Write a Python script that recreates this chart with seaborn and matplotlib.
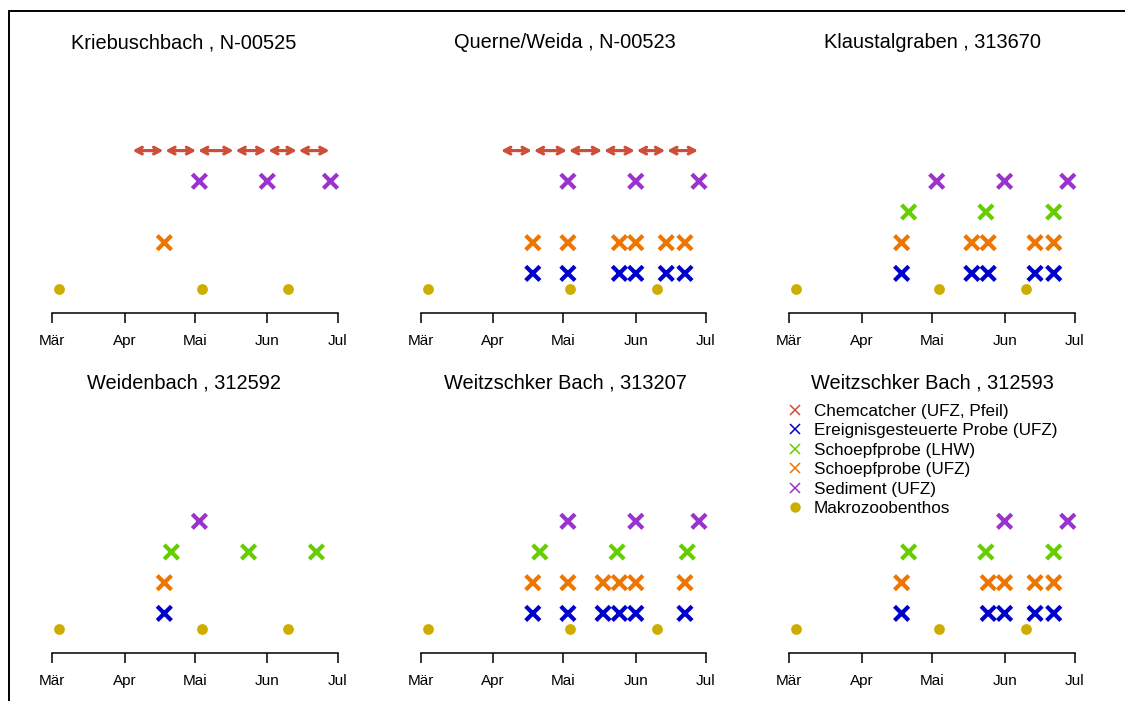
import matplotlib
matplotlib.use("Agg")
import matplotlib.pyplot as plt
import matplotlib.dates as mdates
from matplotlib.lines import Line2D
import pandas as pd
import seaborn as sns

sns.set_theme(style="white")
plt.rcParams["font.family"] = ["Liberation Sans", "DejaVu Sans"]
plt.rcParams["text.color"] = "black"
plt.rcParams["xtick.color"] = "black"

YEAR = 2019

stations = [
    "Kriebuschbach , N-00525",
    "Querne/Weida , N-00523",
    "Klaustalgraben , 313670",
    "Weidenbach , 312592",
    "Weitzschker Bach , 313207",
    "Weitzschker Bach , 312593",
]

month_ticks = ["03-01", "04-01", "05-01", "06-01", "07-01"]
month_labels = ["Mär", "Apr", "Mai", "Jun", "Jul"]

# Chemcatcher exposure periods (consecutive start/end dates)
chemcatcher = {
    "Kriebuschbach , N-00525": ["04-04", "04-18", "05-02", "05-18", "06-01", "06-14", "06-28"],
    "Querne/Weida , N-00523": ["04-04", "04-18", "05-03", "05-18", "06-01", "06-14", "06-28"],
}

sediment = {
    "Kriebuschbach , N-00525": ["05-03", "06-01", "06-28"],
    "Querne/Weida , N-00523": ["05-03", "06-01", "06-28"],
    "Klaustalgraben , 313670": ["05-03", "06-01", "06-28"],
    "Weidenbach , 312592": ["05-03"],
    "Weitzschker Bach , 313207": ["05-03", "06-01", "06-28"],
    "Weitzschker Bach , 312593": ["06-01", "06-28"],
}

schoepf_lhw = {
    "Klaustalgraben , 313670": ["04-21", "05-24", "06-22"],
    "Weidenbach , 312592": ["04-21", "05-24", "06-22"],
    "Weitzschker Bach , 313207": ["04-21", "05-24", "06-23"],
    "Weitzschker Bach , 312593": ["04-21", "05-24", "06-22"],
}

schoepf_ufz = {
    "Kriebuschbach , N-00525": ["04-18"],
    "Querne/Weida , N-00523": ["04-18", "05-03", "05-25", "06-01", "06-14", "06-22"],
    "Klaustalgraben , 313670": ["04-18", "05-18", "05-25", "06-14", "06-22"],
    "Weidenbach , 312592": ["04-18"],
    "Weitzschker Bach , 313207": ["04-18", "05-03", "05-18", "05-25", "06-01", "06-22"],
    "Weitzschker Bach , 312593": ["04-18", "05-25", "06-01", "06-14", "06-22"],
}

ereignis = {
    "Querne/Weida , N-00523": ["04-18", "05-03", "05-25", "06-01", "06-14", "06-22"],
    "Klaustalgraben , 313670": ["04-18", "05-18", "05-25", "06-14", "06-22"],
    "Weidenbach , 312592": ["04-18"],
    "Weitzschker Bach , 313207": ["04-18", "05-03", "05-18", "05-25", "06-01", "06-22"],
    "Weitzschker Bach , 312593": ["04-18", "05-25", "06-01", "06-14", "06-22"],
}

makro = {s: ["03-04", "05-04", "06-10"] for s in stations}

kinds = [
    "Chemcatcher (UFZ, Pfeil)",
    "Ereignisgesteuerte Probe (UFZ)",
    "Schoepfprobe (LHW)",
    "Schoepfprobe (UFZ)",
    "Sediment (UFZ)",
    "Makrozoobenthos",
]
colors = ["#CD4F39", "#0000CD", "#66CD00", "#EE7600", "#9A32CD", "#CDAD00"]
palette = dict(zip(kinds, colors))
levels = {kinds[0]: 5, kinds[1]: 1, kinds[2]: 3, kinds[3]: 2, kinds[4]: 4, kinds[5]: 0.5}


def to_date(md):
    return pd.Timestamp(f"{YEAR}-{md}")


rows = []
for kind, table in [(kinds[1], ereignis), (kinds[2], schoepf_lhw),
                    (kinds[3], schoepf_ufz), (kinds[4], sediment), (kinds[5], makro)]:
    for st, dates in table.items():
        for d in dates:
            rows.append({"station": st, "kind": kind, "date": to_date(d), "level": levels[kind]})
points = pd.DataFrame(rows)

W, H = 1125, 701
fig = plt.figure(figsize=(W / 100, H / 100), dpi=100)

x0 = mdates.date2num(to_date(month_ticks[0]))
x1 = mdates.date2num(to_date(month_ticks[-1]))
pad = 0.04 * (x1 - x0)
ymin, ymax = -0.3, 7.8

col_tick0 = [52.0, 420.5, 789.3]
span_px = 285.5
row_base = [313.3, 653.3]
unit_px = 30.7
title_cx = [184, 565, 932]

axes = []
for i, st in enumerate(stations):
    r, c = divmod(i, 3)
    left_px = col_tick0[c] - pad / (x1 - x0) * span_px
    width_px = span_px * 1.08
    height_px = (ymax - ymin) * unit_px
    bottom_px = row_base[r]
    ax = fig.add_axes([left_px / W, 1 - bottom_px / H, width_px / W, height_px / H])
    ax.set_facecolor("none")
    axes.append(ax)

    sub = points[points["station"] == st]
    xs = sub[sub["kind"] != kinds[5]]
    sns.scatterplot(data=xs, x="date", y="level", hue="kind", palette=palette,
                    marker="x", s=105, linewidth=3.0, legend=False, ax=ax, zorder=3)
    dots = sub[sub["kind"] == kinds[5]]
    sns.scatterplot(data=dots, x="date", y="level", color=palette[kinds[5]],
                    marker="o", s=60, linewidth=0, legend=False, ax=ax, zorder=3)

    if st in chemcatcher:
        cd = [mdates.date2num(to_date(d)) for d in chemcatcher[st]]
        for a, b in zip(cd[:-1], cd[1:]):
            ax.annotate("", xy=(b, levels[kinds[0]]), xytext=(a, levels[kinds[0]]),
                        arrowprops=dict(arrowstyle="<->,head_length=0.38,head_width=0.2",
                                        color=palette[kinds[0]], lw=2.3,
                                        shrinkA=0.7, shrinkB=0.7))

    ax.set_xlim(x0 - pad, x1 + pad)
    ax.set_ylim(ymin, ymax)
    ax.set_xticks([mdates.date2num(to_date(d)) for d in month_ticks])
    ax.set_xticklabels(month_labels, fontsize=11, color="black")
    ax.set_yticks([])
    ax.set_xlabel("")
    ax.set_ylabel("")
    for side in ["top", "left", "right"]:
        ax.spines[side].set_visible(False)
    ax.spines["bottom"].set_bounds(x0, x1)
    ax.spines["bottom"].set_color("black")
    ax.spines["bottom"].set_linewidth(1.1)
    ax.tick_params(axis="x", bottom=True, length=7, width=1.1, color="black", pad=8)

    fig.text(title_cx[c] / W, 1 - (43 + r * 340) / H, st, ha="center", va="center",
             fontsize=14.4, color="black")

handles = []
for k, col in zip(kinds, colors):
    if k == kinds[5]:
        handles.append(Line2D([], [], marker="o", linestyle="none", color=col,
                              markeredgewidth=0, markersize=7.5))
    else:
        handles.append(Line2D([], [], marker="x", linestyle="none", color=col,
                              markeredgewidth=1.1, markersize=7))
leg = axes[5].legend(handles, kinds, loc="upper left", bbox_to_anchor=(786 / W, 1 - 404 / H),
                     bbox_transform=fig.transFigure, frameon=False, fontsize=12.3,
                     borderpad=0, handlelength=1.0, handletextpad=0.62, labelspacing=0.26,
                     borderaxespad=0)
for t in leg.get_texts():
    t.set_color("black")

# outer frame
fig.add_artist(Line2D([8.5 / W, 8.5 / W], [0, 1 - 10.5 / H], transform=fig.transFigure,
                      color="black", lw=1.4))
fig.add_artist(Line2D([8.5 / W, 1], [1 - 10.5 / H, 1 - 10.5 / H], transform=fig.transFigure,
                      color="black", lw=1.4))

fig.savefig("out.png", dpi=100, facecolor="white")
